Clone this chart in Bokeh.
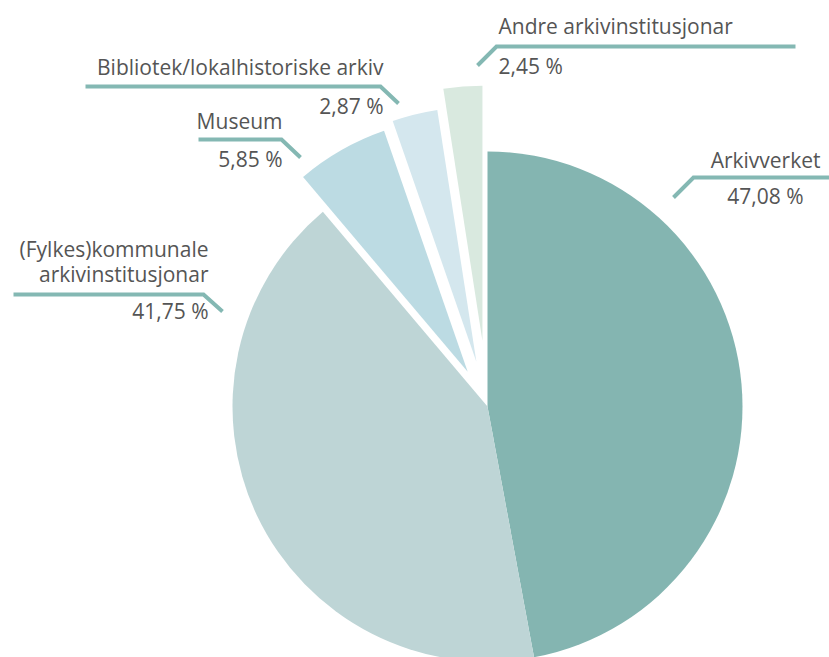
import math
from bokeh.plotting import figure
from bokeh.models import Range1d, ColumnDataSource
from bokeh.core.properties import value
from bokeh.embed import file_html
from bokeh.resources import INLINE

# ---- data ----
categories = ["Arkivverket", "(Fylkes)kommunale\narkivinstitusjonar", "Museum",
              "Bibliotek/lokalhistoriske arkiv", "Andre arkivinstitusjonar"]
shares = [47.08, 41.75, 5.85, 2.87, 2.45]
pct_labels = ["47,08 %", "41,75 %", "5,85 %", "2,87 %", "2,45 %"]

# ---- style ----
colors = ["#84b5b1", "#bed5d6", "#bcdbe3", "#d4e7ee", "#d9e9df"]
explode = [0, 0, 40, 46, 66]
line_color = "#84b8b3"
text_color = "#555555"
FONT = "Open Sans"
FS = "21px"
TEXT_SHIFT = 8   # renderer baseline correction

W, H = 829, 657
WIN_H = 657


def Y(yref):
    return WIN_H - yref


p = figure(width=W, height=H, output_backend="svg", toolbar_location=None,
           x_range=Range1d(0, W), y_range=Range1d(WIN_H - H, WIN_H),
           min_border=0)
p.axis.visible = False
p.grid.visible = False
p.outline_line_color = None
p.background_fill_color = "white"

cx, cy, R = 487, Y(406), 255
total = sum(shares)
cum = 0.0
xs, ys, sa, ea = [], [], [], []
for s, d in zip(shares, explode):
    f0 = cum / total
    f1 = (cum + s) / total
    cum += s
    fm = (f0 + f1) / 2
    am = math.pi / 2 - fm * 2 * math.pi
    xs.append(cx + d * math.cos(am))
    ys.append(cy + d * math.sin(am))
    sa.append(math.pi / 2 - f0 * 2 * math.pi)
    ea.append(math.pi / 2 - f1 * 2 * math.pi)

src = ColumnDataSource(dict(x=xs, y=ys, sa=sa, ea=ea, color=colors))
p.wedge(x="x", y="y", radius=R, start_angle="sa", end_angle="ea", direction="clock",
        fill_color="color", line_color=None, source=src)

# ---- labels (layout in reference pixels) ----
layout = [
    dict(x=820, align="right", base=[167], px=803, pbase=203,
         lx=[673, 693, 829], ly=[197, 177, 177]),
    dict(x=208, align="right", base=[256, 281], px=208, pbase=318,
         lx=[13, 203, 222], ly=[294, 294, 311]),
    dict(x=282, align="right", base=[128], px=282, pbase=166,
         lx=[198, 281, 300], ly=[139, 139, 157]),
    dict(x=383, align="right", base=[74], px=383, pbase=113,
         lx=[85, 380, 398], ly=[86, 86, 103]),
    dict(x=498, align="left", base=[33], px=498, pbase=73,
         lx=[477, 496, 795], ly=[65, 46, 46]),
]

for cat, pct, L in zip(categories, pct_labels, layout):
    p.line(L["lx"], [Y(v) for v in L["ly"]], line_color=line_color, line_width=4,
           line_cap="butt", line_join="miter")
    for line, b in zip(cat.split("\n"), L["base"]):
        p.text(x=[L["x"]], y=[Y(b - TEXT_SHIFT)], text=[line], text_align=L["align"],
               text_baseline="alphabetic", text_font=value(FONT), text_font_size=FS,
               text_color=text_color)
    p.text(x=[L["px"]], y=[Y(L["pbase"] - TEXT_SHIFT)], text=[pct], text_align=L["align"],
           text_baseline="alphabetic", text_font=value(FONT), text_font_size=FS,
           text_color=text_color)

open("out.html", "w").write(file_html(p, INLINE))
